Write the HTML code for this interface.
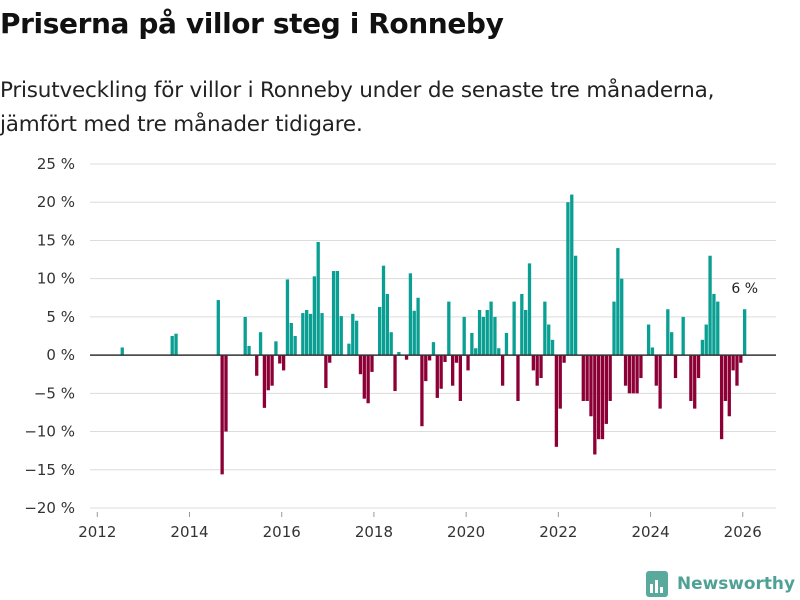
<!DOCTYPE html>
<html><head><meta charset="utf-8"><style>
body{margin:0;background:#fff;font-family:"Liberation Sans","DejaVu Sans",sans-serif;}
#wrap{position:relative;width:800px;height:600px;overflow:hidden;}
h1{position:absolute;left:0;top:7px;margin:0;font-size:28px;font-weight:bold;color:#111;font-family:"DejaVu Sans","Liberation Sans",sans-serif;letter-spacing:-0.4px}
p.sub{position:absolute;left:0;top:74px;margin:0;font-size:21.5px;line-height:34px;color:#222;font-family:"DejaVu Sans","Liberation Sans",sans-serif;letter-spacing:-0.2px}
svg text{font-family:"DejaVu Sans","Liberation Sans",sans-serif;}
</style></head><body>
<div id="wrap">
<h1>Priserna på villor steg i Ronneby</h1>
<p class="sub">Prisutveckling för villor i Ronneby under de senaste tre månaderna,<br>jämfört med tre månader tidigare.</p>
<svg id="chart" width="800" height="600" style="position:absolute;left:0;top:0"></svg>
</div>
<script>
// months since Jan 2012
const monthOffsets=[6,19,20,31,32,33,38,39,41,42,43,44,45,46,47,48,49,50,51,53,54,55,56,57,58,59,60,61,62,63,65,66,67,68,69,70,71,73,74,75,76,77,78,80,81,82,83,84,85,86,87,88,89,90,91,92,93,94,95,96,97,98,99,100,101,102,103,104,105,106,108,109,110,111,112,113,114,115,116,117,118,119,120,121,122,123,124,126,127,128,129,130,131,132,133,134,135,136,137,138,139,140,141,143,144,145,146,148,149,150,152,154,155,156,157,158,159,160,161,162,163,164,165,166,167,168];
const changeValues=[1,2.5,2.8,7.2,-15.6,-10,5,1.2,-2.7,3,-6.9,-4.6,-4,1.8,-1.1,-2,9.9,4.2,2.5,5.5,5.9,5.4,10.3,14.8,5.5,-4.3,-1,11,11,5.1,1.5,5.4,4.5,-2.5,-5.7,-6.3,-2.2,6.3,11.7,8,3,-4.7,0.4,-0.6,10.7,5.8,7.5,-9.3,-3.4,-0.7,1.7,-5.6,-4.4,-0.9,7,-4,-1,-6,5,-2,2.9,0.9,5.9,5,5.9,7,5,0.9,-4,2.9,7,-6,8,5.9,12,-2,-4,-3,7,4,2,-12,-7,-1,20,21,13,-6,-6,-8,-13,-11,-11,-9,-6,7,14,10,-4,-5,-5,-5,-3,4,1,-4,-7,6,3,-3,5,-6,-7,-3,2,4,13,8,7,-11,-6,-8,-2,-4,-1,6];
const yTicks=[25,20,15,10,5,0,-5,-10,-15,-20];
const xTickYears=[2012,2014,2016,2018,2020,2022,2024,2026];

const svg=document.getElementById('chart');
const NS='http://www.w3.org/2000/svg';
const y0=164,pxPerUnit=344/45;
function y(v){return y0+(25-v)*pxPerUnit;}
const mStart=97.3,mW=3.842;
function xm(m){return mStart+m*mW;}
function xYear(yr){return mStart+(yr-2012)*12*mW;}
function mk(tag,attrs){const e=document.createElementNS(NS,tag);for(const k in attrs)e.setAttribute(k,attrs[k]);svg.appendChild(e);return e;}

yTicks.forEach(t=>{
  if(t!==0){const g=mk('line',{x1:90,x2:776,y1:y(t),y2:y(t),stroke:'#dcdcdc','stroke-width':1});
  
  }
  const tx=mk('text',{x:75,y:y(t)+5,'text-anchor':'end','font-size':15,fill:'#333'});
  tx.textContent=(t<0?'\u2212'+Math.abs(t):t)+' %';
  
  
});
xTickYears.forEach(yr=>{
  const tk=mk('line',{x1:xYear(yr),x2:xYear(yr),y1:512,y2:517,stroke:'#999','stroke-width':1});
  
  
  const tx=mk('text',{x:xYear(yr),y:537,'text-anchor':'middle','font-size':15,fill:'#333'});
  tx.textContent=yr;
  
  
});
monthOffsets.forEach((m,i)=>{
  const v=changeValues[i];
  const top=Math.min(y(v),y(0)),h=Math.abs(y(v)-y(0));
  const r=mk('rect',{x:xm(m)+0.25,y:top,width:3.3,height:h,fill:v>=0?'#0a9f93':'#8c0036'});
  
  
});
const z=mk('line',{x1:90,x2:776,y1:y(0),y2:y(0),stroke:'#333','stroke-width':1.5});


const lastM=monthOffsets[monthOffsets.length-1],lastV=changeValues[changeValues.length-1];
const an=mk('text',{x:xm(lastM)+2,y:y(lastV)-16,'text-anchor':'middle','font-size':14,fill:'#222'});
an.textContent=lastV+' %';


// logo
const box=mk('rect',{x:646,y:571,width:22,height:26,rx:3,fill:'#5aa99d'});


[[650,584,3,9],[655,580,3,13],[660,587,3,6]].forEach(b=>{const r=mk('rect',{x:b[0],y:b[1],width:b[2],height:b[3],fill:'#fff'});

});
const lt=mk('text',{x:677,y:589,'font-size':17,'font-weight':'bold',fill:'#4fa195',textLength:118,lengthAdjust:'spacingAndGlyphs'});
lt.textContent='Newsworthy';


</script>
</body></html>
